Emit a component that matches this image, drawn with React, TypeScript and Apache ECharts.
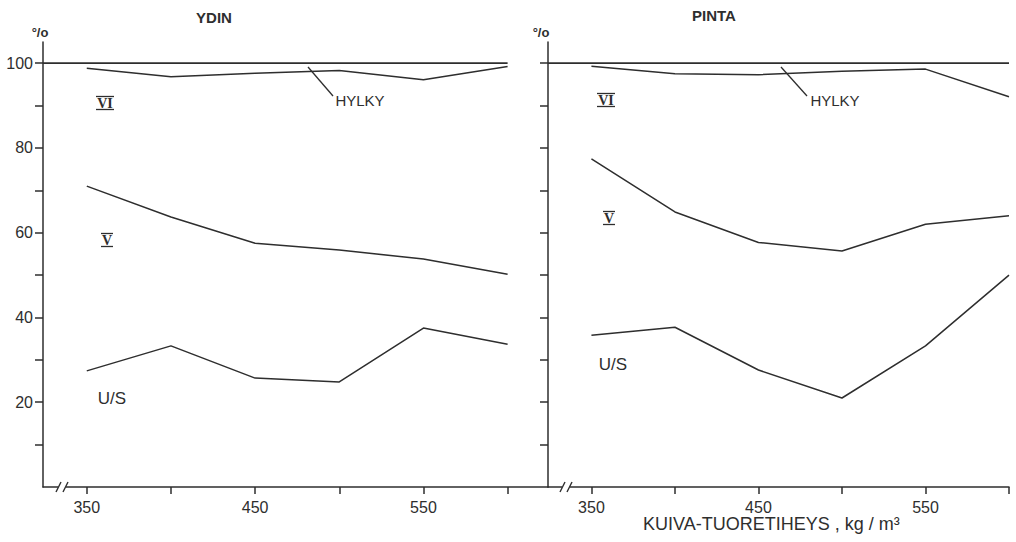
import React, { useEffect, useRef } from "react";
import * as echarts from "echarts";

// ---- data ----
const densities = [350, 400, 450, 500, 550, 600];
const ydinHylky = [98.8, 96.8, 97.6, 98.3, 96.1, 99.2];
const ydinV = [71.0, 63.7, 57.5, 55.9, 53.8, 50.2];
const ydinUS = [27.4, 33.3, 25.7, 24.8, 37.5, 33.7];
const pintaHylky = [99.3, 97.5, 97.3, 98.1, 98.6, 92.1];
const pintaV = [77.4, 64.9, 57.7, 55.7, 62.0, 64.0];
const pintaUS = [35.8, 37.7, 27.6, 21.0, 33.3, 50.0];
const refLineX = [324, 600];
const refLineY = [100, 100];
const xTickValues = [350, 400, 450, 500, 550, 600];
const xLabelValues = [350, 450, 550];
const yTickValues = [10, 20, 30, 40, 50, 60, 70, 80, 90, 100];
const yLabelValues = [20, 40, 60, 80, 100];

const INK = "#2e2e2e";
const FONT = "Liberation Sans, Arial, sans-serif";

const pairs = (xs: number[], ys: number[]) => xs.map((x, i) => [x, ys[i]]);

function lineSeries(data: number[][], idx: number, width = 1.5) {
  return {
    type: "line",
    xAxisIndex: idx,
    yAxisIndex: idx,
    data,
    symbol: "none",
    silent: true,
    lineStyle: { color: INK, width },
  };
}

function xAxis(idx: number, max: number) {
  return {
    type: "value",
    gridIndex: idx,
    min: 324,
    max,
    splitLine: { show: false },
    axisLine: { show: true, onZero: false, lineStyle: { color: INK, width: 1.5 } },
    axisTick: { show: true, length: 7, customValues: xTickValues, lineStyle: { color: INK, width: 1.5 } },
    axisLabel: { customValues: xLabelValues, color: INK, fontSize: 16, fontFamily: FONT, margin: 12 },
  };
}

function yAxis(idx: number, labels: boolean) {
  return {
    type: "value",
    gridIndex: idx,
    min: 0,
    max: 105,
    splitLine: { show: false },
    axisLine: { show: true, lineStyle: { color: INK, width: 1.5 } },
    axisTick: { show: true, length: 8, customValues: yTickValues, lineStyle: { color: INK, width: 1.5 } },
    axisLabel: { show: labels, customValues: yLabelValues, color: INK, fontSize: 16, fontFamily: FONT, margin: 10 },
  };
}

function txt(text: string, x: number, y: number, size: number, align = "center", family = FONT, weight = "normal") {
  return {
    type: "text",
    x,
    y,
    z: 100,
    style: {
      text,
      fill: INK,
      font: `${weight} ${size}px ${family}`,
      textAlign: align,
      textVerticalAlign: "middle",
    },
  };
}

function ln(x1: number, y1: number, x2: number, y2: number, w = 1.4) {
  return { type: "line", z: 100, shape: { x1, y1, x2, y2 }, style: { stroke: INK, lineWidth: w } };
}

function roman(text: string, cx: number, cy: number, halfW: number) {
  return [
    txt(text, cx, cy, 14, "center", "Liberation Serif, DejaVu Serif, serif", "bold"),
    ln(cx - halfW, cy - 6.5, cx + halfW, cy - 6.5, 1.3),
    ln(cx - halfW, cy + 6.5, cx + halfW, cy + 6.5, 1.3),
  ];
}

function axisBreak(x: number, y: number) {
  return [
    { type: "rect", z: 99, shape: { x: x - 3, y: y - 3, width: 8, height: 6 }, style: { fill: "#ffffff" } },
    ln(x - 5, y + 5, x, y - 5, 1.4),
    ln(x + 2, y + 5, x + 7, y - 5, 1.4),
  ];
}

export default function App() {
  const ref = useRef<HTMLDivElement>(null);
  useEffect(() => {
    if (!ref.current) return;
    const chart = echarts.init(ref.current, undefined, { renderer: "svg" });
    chart.setOption({
      animation: false,
      backgroundColor: "#ffffff",
      grid: [
        { left: 43, top: 42, width: 505, height: 445 },
        { left: 548, top: 42, width: 461, height: 445 },
      ],
      xAxis: [xAxis(0, 624), xAxis(1, 600)],
      yAxis: [yAxis(0, true), yAxis(1, false)],
      series: [
        lineSeries(pairs(refLineX, refLineY), 0, 1.8),
        lineSeries(pairs(densities, ydinHylky), 0),
        lineSeries(pairs(densities, ydinV), 0),
        lineSeries(pairs(densities, ydinUS), 0),
        lineSeries(pairs(refLineX, refLineY), 1, 1.8),
        lineSeries(pairs(densities, pintaHylky), 1),
        lineSeries(pairs(densities, pintaV), 1),
        lineSeries(pairs(densities, pintaUS), 1),
      ],
      graphic: [
        txt("YDIN", 214, 17, 15, "center", FONT, "bold"),
        txt("PINTA", 714, 15, 15, "center", FONT, "bold"),
        txt("°/o", 40, 32, 13, "center", FONT, "bold"),
        txt("°/o", 541, 32, 13, "center", FONT, "bold"),
        ...roman("VI", 105, 103, 9),
        ...roman("VI", 606, 100, 9),
        ...roman("V", 107, 240, 6),
        ...roman("V", 609, 218, 6),
        txt("U/S", 112, 398, 17),
        txt("U/S", 613, 364, 17),
        txt("HYLKY", 360, 100, 15),
        txt("HYLKY", 835, 100, 15),
        ln(308, 67, 333, 96, 1.3),
        ln(781, 67, 807, 96, 1.3),
        txt("KUIVA-TUORETIHEYS , kg / m³", 643, 524, 18, "left"),
        ...axisBreak(61, 487),
        ...axisBreak(565, 487),
      ],
    });
    return () => chart.dispose();
  }, []);
  return <div ref={ref} style={{ position: "fixed", left: 0, top: 0, width: 1016, height: 542 }} />;
}
